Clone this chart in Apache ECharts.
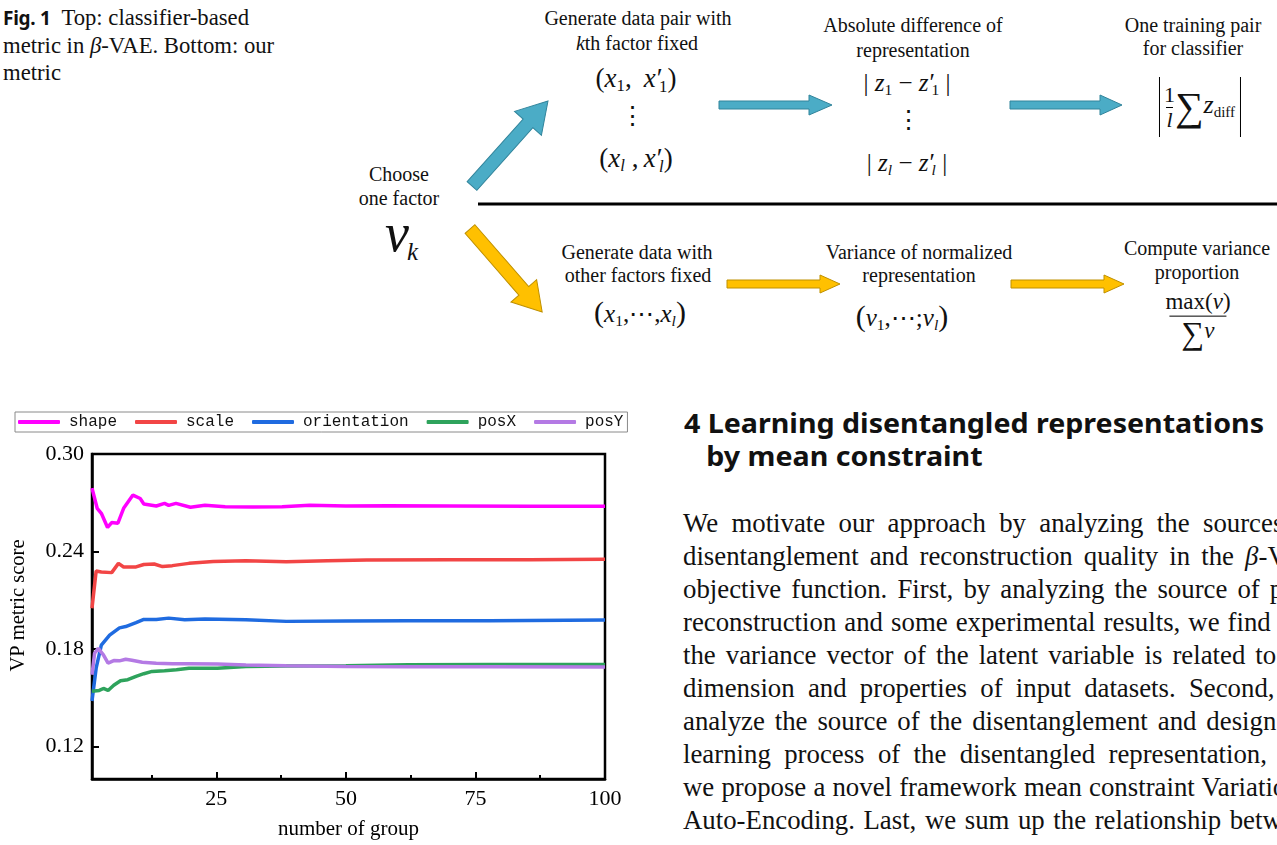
<!DOCTYPE html>
<html>
<head>
<meta charset="utf-8">
<script src="https://cdn.jsdelivr.net/npm/echarts@6/dist/echarts.min.js"></script>
<style>
html,body{margin:0;padding:0;background:#fff;}
body{width:1277px;height:845px;overflow:hidden;position:relative;font-family:'Liberation Serif',serif;color:#111;}
.abs{position:absolute;white-space:nowrap;}
.c{position:absolute;white-space:nowrap;transform:translate(-50%,-50%);line-height:1;font-size:20px;}
.m{font-size:25px;}
.mx{font-size:27px;}
sub{font-size:.62em;vertical-align:-.28em;line-height:0;}
.pr{margin-left:1px;}
.ps{margin-left:-.22em;}
.fr{display:inline-flex;flex-direction:column;align-items:center;vertical-align:middle;line-height:1.05;}
.fr .den{border-top:1.4px solid #000;}
.vb{display:inline-block;width:0;border-left:1.5px solid #000;vertical-align:middle;}
#cap{left:3px;top:4px;font-size:22.7px;line-height:27px;}
#cap b{font-family:'Noto Sans',sans-serif;font-size:19px;font-weight:700;letter-spacing:-.3px;}
#head{left:684px;top:406px;font-family:'Noto Sans',sans-serif;font-weight:700;font-size:27px;line-height:33px;color:#111;}
#head div{transform-origin:0 50%;display:inline-block;}
#para{position:absolute;left:683px;top:507px;width:636px;font-size:26.8px;line-height:33px;}
#para div{text-align:justify;text-align-last:justify;white-space:nowrap;}
#chart{position:absolute;left:0;top:400px;width:640px;height:445px;}
</style>
</head>
<body>
<svg class="abs" style="left:0;top:0" width="1277" height="400">
  <line x1="478" y1="204" x2="1277" y2="204" stroke="#000" stroke-width="3"/>
  <g fill="#4BACC6" stroke="#31849B" stroke-width="1">
    <polygon points="719,101 809,101 809,95 832,105 809,115 809,109 719,109"/>
    <polygon points="1010,101 1100,101 1100,95 1122,105 1100,115 1100,109 1010,109"/>
    <polygon transform="translate(472,186) rotate(-48.2)" points="0,-6.5 84,-6.5 84,-18 114,0 84,18 84,6.5 0,6.5"/>
  </g>
  <g fill="#FFC000" stroke="#BF9000" stroke-width="1">
    <polygon points="727,280 820,280 820,275 840,284 820,293 820,288 727,288"/>
    <polygon points="1011,280 1104,280 1104,275 1124,284 1104,293 1104,288 1011,288"/>
    <polygon transform="translate(470,229) rotate(49)" points="0,-6.5 82,-6.5 82,-17 110,0 82,17 82,6.5 0,6.5"/>
  </g>
</svg>

<div id="cap" class="abs"><b>Fig. 1</b>&nbsp; Top: classifier-based<br>metric in <i>β</i>-VAE. Bottom: our<br>metric</div>

<div class="c" style="left:399px;top:174px">Choose</div>
<div class="c" style="left:399px;top:198px">one factor</div>
<div class="abs" style="left:385px;top:206px;font-size:54px;line-height:54px"><i>v</i><i style="font-size:25px;vertical-align:-9px;margin-left:-2px">k</i></div>

<div class="c" style="left:638px;top:18px">Generate data pair with</div>
<div class="c" style="left:637px;top:43px"><i>k</i>th factor fixed</div>
<div class="c mx" style="left:636px;top:78px">(<i>x</i><sub>1</sub>,&thinsp; <i>x</i><span class="pr">′</span><sub class="ps">1</sub>)</div>
<div class="c m" style="left:632px;top:115px">⋮</div>
<div class="c mx" style="left:636px;top:158px">(<i>x</i><sub><i>l</i></sub> ,&thinsp;<i>x</i><span class="pr">′</span><sub class="ps"><i>l</i></sub>)</div>

<div class="c" style="left:913px;top:25px">Absolute difference of</div>
<div class="c" style="left:913px;top:50px">representation</div>
<div class="c m" style="left:907px;top:82px">| <i>z</i><sub>1</sub> − <i>z</i><span class="pr">′</span><sub class="ps">1</sub> |</div>
<div class="c m" style="left:908px;top:119px">⋮</div>
<div class="c m" style="left:907px;top:162px">| <i>z</i><sub><i>l</i></sub> − <i>z</i><span class="pr">′</span><sub class="ps"><i>l</i></sub> |</div>

<div class="c" style="left:1193px;top:25px">One training pair</div>
<div class="c" style="left:1193px;top:48px">for classifier</div>
<div class="c" style="left:1200px;top:107px;font-size:26px"><span class="vb" style="height:60px;margin-right:4px"></span><span class="fr" style="font-size:22px"><span>1</span><span class="den"><i>l</i></span></span><span style="font-size:40px;vertical-align:middle">∑</span><i>z</i><sub style="font-size:15px">diff</sub><span class="vb" style="height:60px;margin-left:5px"></span></div>

<div class="c" style="left:637px;top:252px">Generate data with</div>
<div class="c" style="left:638px;top:275px">other factors fixed</div>
<div class="c m" style="left:640px;top:312px"><span style="font-size:30px">(</span><i>x</i><sub>1</sub>,⋯,<i>x</i><sub><i>l</i></sub><span style="font-size:30px">)</span></div>

<div class="c" style="left:919px;top:252px">Variance of normalized</div>
<div class="c" style="left:919px;top:275px">representation</div>
<div class="c m" style="left:902px;top:316px"><span style="font-size:30px">(</span><i>v</i><sub>1</sub>,⋯;<i>v</i><sub><i>l</i></sub><span style="font-size:30px">)</span></div>

<div class="c" style="left:1197px;top:248px">Compute variance</div>
<div class="c" style="left:1197px;top:272px">proportion</div>
<div class="c" style="left:1198px;top:320px;font-size:23px"><span class="fr"><span style="padding:0 9px 2px">max(<i>v</i>)</span><span class="den" style="padding:0 12px"><span style="font-size:32px">∑</span><i style="vertical-align:6px">v</i></span></span></div>

<div id="head" class="abs"><div id="h1">4 Learning disentangled representations</div><br><div id="h2">&nbsp;&nbsp;&nbsp;by mean constraint</div></div>

<div id="para">
<div>We motivate our approach by analyzing the sources of</div>
<div>disentanglement and reconstruction quality in the <i>β</i>-VAE</div>
<div>objective function. First, by analyzing the source of poor</div>
<div>reconstruction and some experimental results, we find that</div>
<div>the variance vector of the latent variable is related to the</div>
<div>dimension and properties of input datasets. Second, we</div>
<div>analyze the source of the disentanglement and design the</div>
<div>learning process of the disentangled representation, and</div>
<div>we propose a novel framework mean constraint Variational</div>
<div>Auto-Encoding. Last, we sum up the relationship between</div>
</div>

<div id="chart"></div>

<script>
// ---- data ----
const seriesNames = ['shape', 'scale', 'orientation', 'posX', 'posY'];
const seriesColors = ['#FF00FF', '#F24545', '#1F6BE0', '#2EA35C', '#B47AE4'];

const shapeX = [1, 2, 2.8, 4, 4.8, 6, 7.1, 8.9, 10.3, 11, 13.4, 15, 15.8, 17.2, 20, 22.8, 26.7, 32, 37.7, 43, 50, 58, 70, 85.6, 100];
const shapeY = [0.279, 0.2666, 0.2635, 0.2548, 0.2578, 0.2574, 0.2666, 0.2747, 0.2726, 0.2692, 0.268, 0.2696, 0.2684, 0.2696, 0.2672, 0.2684, 0.2676, 0.2674, 0.2676, 0.2684, 0.268, 0.2682, 0.268, 0.2678, 0.2678];

const scaleX = [1, 1.8, 2.8, 4.8, 6.1, 7.1, 9.5, 11, 13, 14.6, 16.5, 19.7, 24.4, 30.7, 38.5, 46.4, 54, 70, 85.6, 100];
const scaleY = [0.2051, 0.228, 0.2274, 0.227, 0.2327, 0.2305, 0.2305, 0.232, 0.2323, 0.2307, 0.2313, 0.2327, 0.2339, 0.2343, 0.2337, 0.2343, 0.2347, 0.2349, 0.2349, 0.2353];

const orientX = [1, 1.8, 2.8, 4.4, 6.3, 7.5, 9.5, 11, 13.4, 15.8, 18.9, 22.8, 30.7, 38.5, 50, 62, 77.8, 100];
const orientY = [0.148, 0.1682, 0.1824, 0.1885, 0.193, 0.1938, 0.1962, 0.1982, 0.1982, 0.199, 0.198, 0.1984, 0.198, 0.197, 0.1972, 0.1974, 0.1974, 0.1978];

const posXX = [1, 2.4, 3.2, 4.1, 5.2, 6.5, 7.9, 9.5, 11, 12.6, 15, 17.3, 19.7, 25.2, 30.7, 38.5, 50, 62, 77.8, 100];
const posXY = [0.154, 0.1545, 0.1557, 0.1545, 0.1577, 0.1605, 0.1611, 0.1632, 0.1648, 0.1662, 0.1666, 0.1672, 0.1682, 0.1682, 0.1693, 0.1695, 0.1697, 0.1703, 0.1705, 0.1705];

const posYX = [1, 1.5, 2.2, 3.2, 4.1, 5.2, 6.3, 7.5, 8.7, 10.7, 13.4, 16.5, 19.7, 25.2, 30.7, 38.5, 50, 62, 77.8, 100];
const posYY = [0.1642, 0.1774, 0.1804, 0.1764, 0.1713, 0.1729, 0.1727, 0.1737, 0.1731, 0.1719, 0.1713, 0.1709, 0.1709, 0.1707, 0.1701, 0.1697, 0.1693, 0.1691, 0.1691, 0.1689];

const xTicks = [25, 50, 75, 100];
const xMinorTicks = [12.5, 37.5, 62.5, 87.5];
const yTicks = [0.12, 0.18, 0.24, 0.30];

const allX = [shapeX, scaleX, orientX, posXX, posYX];
const allY = [shapeY, scaleY, orientY, posXY, posYY];

const serif = 'Liberation Serif';
const chart = echarts.init(document.getElementById('chart'));
const option = {
  animation: false,
  legend: {
    left: 15, top: 12,
    data: seriesNames,
    icon: 'roundRect',
    itemWidth: 42, itemHeight: 4, itemGap: 18,
    borderColor: '#8a8a8a', borderWidth: 1, borderRadius: 0,
    padding: [2, 4, 2, 3],
    textStyle: { fontFamily: 'Liberation Mono', fontSize: 16, color: '#111', padding: [0, 0, 0, 4] }
  },
  grid: { left: 91, right: 35, top: 54, bottom: 63, show: true, borderColor: '#000', borderWidth: 2.5 },
  xAxis: [{
    type: 'value', min: 1, max: 100,
    axisLine: { lineStyle: { color: '#000', width: 2.5 } },
    axisTick: { inside: true, length: 7, customValues: xTicks, lineStyle: { color: '#000', width: 2 } },
    axisLabel: { customValues: xTicks, fontFamily: serif, fontSize: 22, color: '#000', margin: 9 },
    splitLine: { show: false },
    name: 'number of group', nameLocation: 'middle', nameGap: 40,
    nameTextStyle: { fontFamily: serif, fontSize: 21, color: '#000' }
  }, {
    type: 'value', min: 1, max: 100, position: 'bottom',
    axisLine: { show: false },
    axisTick: { inside: true, length: 4, customValues: xMinorTicks, lineStyle: { color: '#000', width: 2 } },
    axisLabel: { show: false },
    splitLine: { show: false }
  }],
  yAxis: {
    type: 'value', min: 0.10, max: 0.30,
    axisLine: { show: true, lineStyle: { color: '#000', width: 2.5 } },
    axisTick: { show: true, inside: true, length: 7, customValues: yTicks, lineStyle: { color: '#000', width: 2 } },
    axisLabel: { customValues: yTicks, fontFamily: serif, fontSize: 22, color: '#000', margin: 8,
      formatter: v => v.toFixed(2) },
    splitLine: { show: false },
    name: 'VP metric score', nameLocation: 'middle', nameGap: 63,
    nameTextStyle: { fontFamily: serif, fontSize: 20.5, color: '#000', padding: [0, 0, 0, 22] }
  },
  series: seriesNames.map((n, i) => ({
    name: n, type: 'line', xAxisIndex: 0,
    data: allX[i].map((x, j) => [x, allY[i][j]]),
    showSymbol: false, symbol: 'none',
    lineStyle: { width: 3.5, color: seriesColors[i] },
    itemStyle: { color: seriesColors[i] }
  }))
};
chart.setOption(option);

function fitHead() {
  const h1 = document.getElementById('h1'), h2 = document.getElementById('h2');
  const w = h1.getBoundingClientRect().width;
  const s = 580 / w;
  h1.style.transform = 'scaleX(' + s + ')';
  h2.style.transform = 'scaleX(' + s + ')';
}
if (document.fonts && document.fonts.ready) document.fonts.ready.then(fitHead); else fitHead();
</script>
</body>
</html>
